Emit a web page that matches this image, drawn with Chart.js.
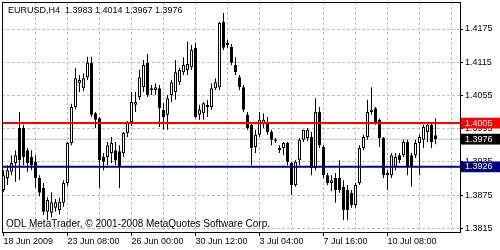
<!DOCTYPE html>
<html><head><meta charset="utf-8">
<script src="https://cdn.jsdelivr.net/npm/chart.js@4"></script>
<style>
html,body{margin:0;padding:0;background:#fff;}
#wrap{position:relative;width:500px;height:250px;overflow:hidden;}
canvas{position:absolute;left:0;top:0;}
.ov{position:absolute;font-family:"Liberation Sans",Arial,sans-serif;color:#000;white-space:nowrap;line-height:1;}
#title{left:8px;top:6px;font-size:9px;}
#copy{left:6px;top:219px;font-size:10px;}
</style></head><body>
<div id="wrap"><canvas id="c" width="500" height="250"></canvas>
<div class="ov" id="title"></div>
<div class="ov" id="copy">ODL MetaTrader, © 2001-2008 MetaQuotes Software Corp.</div></div>
<script>
const symbol = 'EURUSD';
const period = 'H4';
const opens = [
1.3884,1.3906,1.3917,1.3933,1.3996,1.3996,1.3956,1.3944,1.3935,1.3906,
1.3888,1.3845,1.3843,1.3852,1.3848,1.3861,1.3897,1.3969,1.4034,1.4077,
1.4068,1.4088,1.4114,1.4023,1.4014,1.3944,1.3944,1.3951,1.3956,1.3954,
1.3951,1.3987,1.4007,1.4038,1.4052,1.4070,1.4114,1.4065,1.4065,1.4068,
1.4029,1.4020,1.4056,1.4061,1.4079,1.4097,1.4101,1.4106,1.4141,1.4020,
1.4023,1.4038,1.4034,1.4068,1.4070,1.4188,1.4150,1.4143,1.4110,1.4088,
1.4070,1.4020,1.4002,1.3962,1.3984,1.4005,1.4007,1.3989,1.3976,1.3956,
1.3960,1.3969,1.3933,1.3893,1.3938,1.3975,1.3978,1.3980,1.3924,1.4025,
1.3962,1.3911,1.3897,1.3906,1.3906,1.3890,1.3884,1.3879,1.3857,1.3897,
1.3960,1.3980,1.4025,1.4032,1.4011,1.3978,1.3911,1.3911,1.3926,1.3947,
1.3947,1.3971,1.3947,1.3947,1.3969,1.3975,1.3989,1.4002,1.3983];
const highs = [
1.3920,1.3929,1.3947,1.3956,1.4025,1.4002,1.3960,1.3956,1.3947,1.3911,
1.3897,1.3871,1.3880,1.3868,1.3870,1.3902,1.3971,1.4040,1.4105,1.4092,
1.4095,1.4125,1.4125,1.4025,1.4016,1.3951,1.3971,1.3980,1.3971,1.3965,
1.3989,1.4009,1.4061,1.4061,1.4101,1.4119,1.4130,1.4074,1.4077,1.4074,
1.4041,1.4056,1.4083,1.4119,1.4105,1.4124,1.4152,1.4146,1.4150,1.4038,
1.4043,1.4047,1.4077,1.4086,1.4188,1.4204,1.4155,1.4148,1.4124,1.4092,
1.4074,1.4025,1.4005,1.3993,1.4025,1.4023,1.4016,1.3993,1.3978,1.3965,
1.3971,1.3971,1.3935,1.3938,1.3978,1.3993,1.3996,1.3989,1.4050,1.4034,
1.3965,1.3915,1.3911,1.3915,1.3938,1.3902,1.3893,1.3884,1.3897,1.3965,
1.3984,1.4047,1.4070,1.4034,1.4014,1.3980,1.3920,1.3951,1.3951,1.3951,
1.3975,1.3975,1.3951,1.3975,1.3984,1.4002,1.4005,1.4005,1.4014];
const lows = [
1.3881,1.3893,1.3911,1.3899,1.3902,1.3929,1.3917,1.3920,1.3888,1.3873,
1.3839,1.3830,1.3835,1.3845,1.3840,1.3854,1.3891,1.3965,1.4030,1.4061,
1.4063,1.4083,1.4016,1.3996,1.3888,1.3920,1.3929,1.3933,1.3929,1.3888,
1.3944,1.3980,1.4000,1.4025,1.4047,1.4061,1.4052,1.4056,1.4056,1.3998,
1.3993,1.3993,1.4043,1.4047,1.4074,1.4092,1.4092,1.4101,1.4014,1.4011,
1.4011,1.4016,1.4029,1.4065,1.4065,1.4137,1.4141,1.4110,1.4092,1.4065,
1.4025,1.3993,1.3929,1.3951,1.3980,1.3996,1.3984,1.3965,1.3969,1.3951,
1.3947,1.3929,1.3875,1.3890,1.3929,1.3971,1.3973,1.3911,1.3920,1.3960,
1.3906,1.3893,1.3882,1.3861,1.3879,1.3830,1.3830,1.3852,1.3852,1.3893,
1.3956,1.3975,1.4020,1.4002,1.3962,1.3906,1.3884,1.3906,1.3920,1.3933,
1.3944,1.3911,1.3890,1.3942,1.3911,1.3960,1.3971,1.3960,1.3967];
const closes = [
1.3911,1.3920,1.3933,1.3947,1.3938,1.3944,1.3933,1.3929,1.3906,1.3879,
1.3845,1.3866,1.3862,1.3862,1.3863,1.3897,1.3969,1.4034,1.4086,1.4083,
1.4086,1.4114,1.4020,1.4011,1.3938,1.3935,1.3965,1.3969,1.3938,1.3926,
1.3987,1.4007,1.4043,1.4043,1.4088,1.4110,1.4056,1.4068,1.4070,1.4032,
1.4016,1.4050,1.4079,1.4097,1.4101,1.4110,1.4112,1.4137,1.4016,1.4029,
1.4041,1.4034,1.4068,1.4079,1.4186,1.4141,1.4146,1.4114,1.4097,1.4070,
1.4029,1.3996,1.3960,1.3984,1.4011,1.4011,1.3989,1.3975,1.3973,1.3960,
1.3969,1.3935,1.3893,1.3935,1.3975,1.3993,1.3993,1.3924,1.4025,1.3965,
1.3911,1.3897,1.3902,1.3884,1.3884,1.3848,1.3848,1.3857,1.3893,1.3960,
1.3980,1.4025,1.4029,1.4007,1.3978,1.3911,1.3915,1.3947,1.3944,1.3938,
1.3971,1.3926,1.3927,1.3969,1.3980,1.3998,1.4002,1.3971,1.3976];
const xTickIndex = [0,16,32,48,64,80,96];
const xTickLabels = ['18 Jun 2009','23 Jun 08:00','26 Jun 00:00','30 Jun 12:00','3 Jul 04:00','7 Jul 16:00','10 Jul 08:00'];
const xGridIndex = [0,8,16,24,32,40,48,56,64,72,80,88,96,104,112];
const yTicks = [1.3815,1.3875,1.3935,1.3995,1.4055,1.4115,1.4175];
const hLines = [1.4005,1.3926];
const hLineColors = ['#ff0000','#000080'];
const bidPrice = 1.3976;
const tagValues = [1.4005,1.3976,1.3926];
const tagColors = ['#ff0000','#000000','#000080'];

const last = opens.length - 1;
document.getElementById('title').textContent = symbol + ',' + period + '\u00a0\u00a0' +
  [opens[last], highs[last], lows[last], closes[last]].map(v => v.toFixed(4)).join(' ');

const FONT = '"Liberation Sans", Arial, sans-serif';
const wickData = opens.map((o, i) => ({x: i, y: [lows[i], highs[i]]}));
const bodyData = opens.map((o, i) => ({x: i, y: [o, closes[i]]}));
const bodyColors = opens.map((o, i) => closes[i] >= o ? '#ffffff' : '#000000');
const TR = 'rgba(0,0,0,0)';
const tagIdx = v => tagValues.findIndex(t => Math.abs(t - v) < 1e-9);
const isTagCtx = c => c.tick && tagIdx(c.tick.value) >= 0;

const frame = {
  id: 'frame',
  afterDraw(chart) {
    const {ctx, chartArea: a} = chart;
    ctx.save();
    ctx.strokeStyle = '#000';
    ctx.lineWidth = 1;
    ctx.strokeRect(a.left + 0.5, a.top + 0.5, a.right - a.left, a.bottom - a.top);
    ctx.restore();
  }
};

new Chart(document.getElementById('c'), {
  type: 'bar',
  data: {
    datasets: [
      ...hLines.map((v, k) => ({type: 'line', xAxisID: 'xl', yAxisID: 'y', data: [{x: 0, y: v}, {x: 1, y: v}],
        borderColor: hLineColors[k], borderWidth: 2, pointRadius: 0, order: 1})),
      {type: 'bar', xAxisID: 'x', yAxisID: 'y', data: bodyData, backgroundColor: bodyColors, borderColor: '#000',
        borderWidth: 1, borderSkipped: false, barThickness: 3, grouped: false, inflateAmount: 0, order: 2},
      {type: 'bar', xAxisID: 'x', yAxisID: 'y', data: wickData, backgroundColor: '#000', borderWidth: 0,
        barThickness: 1, grouped: false, inflateAmount: 0, order: 3},
      {type: 'line', xAxisID: 'xl', yAxisID: 'y', data: [{x: 0, y: bidPrice}, {x: 1, y: bidPrice}],
        borderColor: '#c0c0c0', borderWidth: 1, pointRadius: 0, order: 4}
    ]
  },
  options: {
    responsive: false,
    devicePixelRatio: 1,
    animation: false,
    layout: {padding: {left: 2, top: 2, right: 0, bottom: 0}},
    plugins: {legend: {display: false}, tooltip: {enabled: false}},
    scales: {
      x: {
        type: 'linear', position: 'bottom', min: -0.375, max: 114.125, offset: false,
        afterBuildTicks: s => { s.ticks = xGridIndex.map(v => ({value: v})); },
        afterFit: s => { s.height = 18; s.paddingLeft = 0; s.paddingRight = 0; },
        ticks: {
          autoSkip: false, maxRotation: 0, minRotation: 0, align: 'start', padding: 0,
          font: {family: FONT, size: 9}, color: '#000',
          callback: v => { const k = xTickIndex.indexOf(v); return k >= 0 ? xTickLabels[k] : ''; }
        },
        grid: {
          offset: false, lineWidth: 1, tickLength: 4,
          color: c => (c.tick && c.tick.value === 0) ? TR : '#c0c0c0',
          tickColor: c => (c.tick && xTickIndex.includes(c.tick.value)) ? '#000' : TR
        },
        border: {display: false, dash: [3, 2]}
      },
      xl: {type: 'linear', min: 0, max: 1, display: false, offset: false, grid: {offset: false}},
      y: {
        type: 'linear', position: 'right', min: 1.38083, max: 1.42238,
        afterBuildTicks: s => { s.ticks = yTicks.map(v => ({value: v})).concat(tagValues.map(v => ({value: v}))); },
        afterFit: s => { s.width = 40; s.paddingTop = 0; s.paddingBottom = 0; },
        ticks: {
          autoSkip: false, padding: 2,
          font: {family: FONT, size: 9},
          color: c => isTagCtx(c) ? '#ffffff' : '#000000',
          callback: v => v.toFixed(4),
          showLabelBackdrop: c => isTagCtx(c),
          backdropColor: c => isTagCtx(c) ? tagColors[tagIdx(c.tick.value)] : TR,
          backdropPadding: {left: 4, right: 8, top: 0, bottom: 0}
        },
        grid: {
          lineWidth: 1, tickLength: 3,
          color: c => isTagCtx(c) ? TR : '#c0c0c0',
          tickColor: c => isTagCtx(c) ? TR : '#000'
        },
        border: {display: false, dash: [3, 2]}
      }
    }
  },
  plugins: [frame]
});
</script>
</body></html>
